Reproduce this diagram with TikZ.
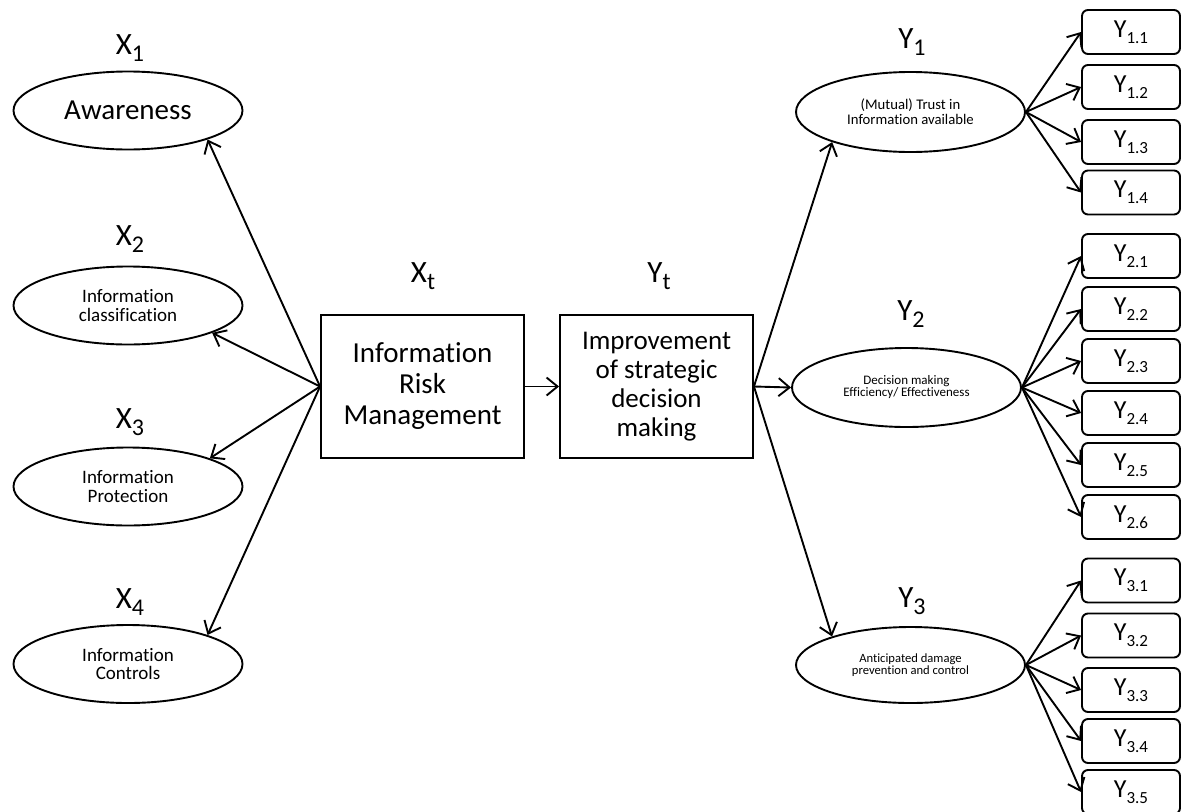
\documentclass[tikz,border=0pt]{standalone}
\usepackage{fontspec}
\setmainfont[Ligatures=NoCommon]{Carlito}
\usetikzlibrary{shapes.geometric,arrows.meta}

% variable label with a lowered subscript
\newcommand\varlab[2]{\fontsize{31}{31}\selectfont #1\raisebox{-7pt}{\fontsize{24}{24}\selectfont #2}}
% indicator label inside the small boxes
\newcommand\indlab[1]{\fontsize{26}{26}\selectfont Y\raisebox{-6pt}{\fontsize{17}{17}\selectfont #1}}

\tikzset{
  ell/.style={ellipse, draw, line width=1.9pt, minimum width=229pt, minimum height=78pt,
              inner sep=0pt, align=center},
  bigbox/.style={rectangle, draw, line width=1.9pt, minimum height=143pt, inner sep=0pt,
                 align=center},
  ybox/.style={rectangle, rounded corners=6pt, draw, line width=1.9pt, minimum width=98pt,
               minimum height=44pt, inner sep=0pt},
  lab/.style={anchor=base, inner sep=0pt},
  arr/.style={line width=1.9pt, -{Straight Barb[length=11pt,width=18pt]}},
}

\begin{document}
\begin{tikzpicture}[x=1pt,y=-1pt]
\useasboundingbox (0,0) rectangle (1182,811);
\fill[white] (0,0) rectangle (1182,811);

% ---- independent constructs
\node[ell, font=\fontsize{29}{29}\selectfont] (aw) at (128,110.5) {Awareness};
\node[ell, font=\fontsize{19}{18.3}\selectfont] (cls) at (128,305.5) {Information\\classification};
\node[ell, font=\fontsize{19}{18.3}\selectfont] (prot) at (128,486.5) {Information\\Protection};
\node[ell, font=\fontsize{19}{18.3}\selectfont] (ctl) at (128,664) {Information\\Controls};

\node[lab] (lx1) at (130,54) {\varlab{X}{1}};
\node[lab] (lx2) at (130,245) {\varlab{X}{2}};
\node[lab] (lx3) at (130,428) {\varlab{X}{3}};
\node[lab] (lx4) at (130,608) {\varlab{X}{4}};

% ---- central boxes
\node[bigbox, minimum width=203pt, font=\fontsize{29}{31}\selectfont] (xt) at (422.5,386.5)
  {Information\\Risk\\Management};
\node[bigbox, minimum width=193pt, font=\fontsize{27}{28.8}\selectfont] (yt) at (656.5,386.5)
  {Improvement\\of strategic\\decision\\making};
\node[lab] (lxt) at (423,282) {\varlab{X}{t}};
\node[lab] (lyt) at (659,282) {\varlab{Y}{t}};

% ---- dependent constructs
\node[ell, minimum height=80pt, font=\fontsize{14.7}{15}\selectfont] (y1) at (910.5,112)
  {(Mutual) Trust in\\Information available};
\node[ell, minimum height=79pt, font=\fontsize{13}{12}\selectfont] (y2) at (906.5,387.5)
  {Decision making\\Efficiency/ Effectiveness};
\node[ell, minimum height=76pt, font=\fontsize{12.6}{12}\selectfont] (y3) at (910.5,665)
  {Anticipated damage\\prevention and control};

\node[lab] (ly1) at (912,48) {\varlab{Y}{1}};
\node[lab] (ly2) at (911,320) {\varlab{Y}{2}};
\node[lab] (ly3) at (912,607) {\varlab{Y}{3}};

% ---- indicator boxes
\node[ybox] (y11) at (1131,32) {\indlab{1.1}};
\node[ybox] (y12) at (1131,87) {\indlab{1.2}};
\node[ybox] (y13) at (1131,142) {\indlab{1.3}};
\node[ybox] (y14) at (1131,192.5) {\indlab{1.4}};

\node[ybox] (y21) at (1131,256) {\indlab{2.1}};
\node[ybox] (y22) at (1131,309) {\indlab{2.2}};
\node[ybox] (y23) at (1131,361) {\indlab{2.3}};
\node[ybox] (y24) at (1131,413) {\indlab{2.4}};
\node[ybox] (y25) at (1131,465) {\indlab{2.5}};
\node[ybox] (y26) at (1131,517) {\indlab{2.6}};

\node[ybox] (y31) at (1131,580.5) {\indlab{3.1}};
\node[ybox] (y32) at (1131,635.5) {\indlab{3.2}};
\node[ybox] (y33) at (1131,690) {\indlab{3.3}};
\node[ybox] (y34) at (1131,741) {\indlab{3.4}};
\node[ybox] (y35) at (1131,792) {\indlab{3.5}};

% ---- connectors
\draw[arr] (xt.west) -- (aw.-20);
\draw[arr] (xt.west) -- (cls.-18);
\draw[arr] (xt.west) -- (prot.19);
\draw[arr] (xt.west) -- (ctl.20);

\draw[arr] (xt.east) -- (yt.west);

\draw[arr] (yt.east) -- (y1.201);
\draw[arr] (yt.east) -- (y2.west);
\draw[arr] (yt.east) -- (y3.160);

\foreach \b in {y11,y12,y13,y14} \draw[arr] (y1.east) -- (\b.west);
\foreach \b in {y21,y22,y23,y24,y25,y26} \draw[arr] (y2.east) -- (\b.west);
\foreach \b in {y31,y32,y33,y34,y35} \draw[arr] (y3.east) -- (\b.west);
\end{tikzpicture}
\end{document}
